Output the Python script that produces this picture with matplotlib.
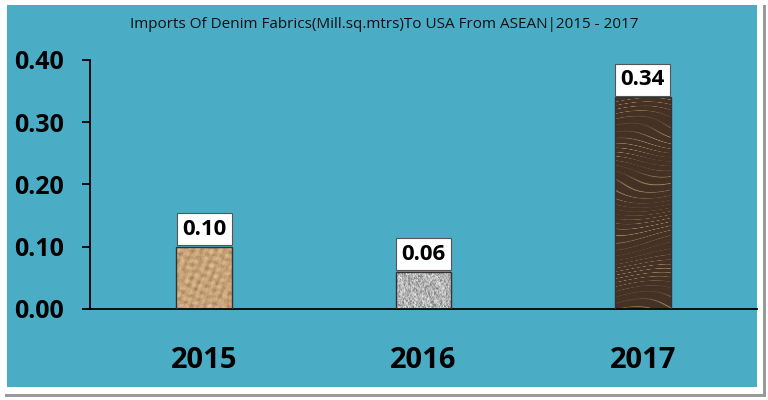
import numpy as np
import matplotlib
matplotlib.use("Agg")
import matplotlib.pyplot as plt
from matplotlib.patches import Rectangle

categories = ["2015", "2016", "2017"]
values = [0.10, 0.06, 0.34]
value_labels = ["0.10", "0.06", "0.34"]
yticks = [0.00, 0.10, 0.20, 0.30, 0.40]
ytick_labels = ["0.00", "0.10", "0.20", "0.30", "0.40"]
title = "Imports Of Denim Fabrics(Mill.sq.mtrs)To USA From ASEAN|2015 - 2017"

plt.rcParams['font.family'] = ['Open Sans', 'DejaVu Sans']

TEAL = "#4BACC6"

fig = plt.figure(figsize=(7.68, 4.0), dpi=100)
fig.patch.set_facecolor("white")
W, H = 768.0, 400.0


def frect(x0, y0, x1, y1, color, z):
    # pixel coords with origin at top-left
    fig.patches.append(Rectangle((x0 / W, 1 - y1 / H), (x1 - x0) / W, (y1 - y0) / H,
                                 transform=fig.transFigure, facecolor=color,
                                 edgecolor="none", zorder=z))


frect(5, 5, 766, 397, "#9a9a9a", -3)
frect(0, 0, 763, 394, "white", -2)
frect(7, 5, 757, 387, TEAL, -1)

ax = fig.add_axes([90 / W, (400 - 309) / H, (757 - 90) / W, (309 - 60) / H])
ax.set_facecolor("none")
ax.set_zorder(1)

x = np.arange(len(categories))
bw = 0.255
bars = ax.bar(x, values, width=bw, color="none", edgecolor="#333333", linewidth=1.0, zorder=3)


def hashn(i, j, s=0.0):
    v = np.sin(i * 12.9898 + j * 78.233 + s) * 43758.5453
    return v - np.floor(v)


def tex_paper(h, w):
    jj, ii = np.meshgrid(np.arange(w), np.arange(h))
    params = [(0.31, 0.17, 0.0), (-0.22, 0.29, 1.3), (0.13, -0.41, 2.1), (0.45, 0.08, 0.7),
              (-0.37, -0.19, 2.9), (0.09, 0.52, 1.9)]
    acc = np.zeros((h, w))
    for fx, fy, ph in params:
        acc += np.abs(np.sin(fx * jj + fy * ii + ph + 0.6 * np.sin(0.11 * ii + 0.07 * jj)))
    acc = (acc - acc.min()) / (acc.max() - acc.min())
    acc = 0.8 * acc + 0.2 * hashn(ii, jj)
    dark = np.array([150, 110, 70]) / 255
    light = np.array([232, 200, 155]) / 255
    return dark + (light - dark) * acc[..., None]


def tex_granite(h, w):
    jj, ii = np.meshgrid(np.arange(w), np.arange(h))
    n = hashn(ii, jj)
    n2 = hashn(ii // 2, jj // 2, 3.0)
    g = 0.45 + 0.5 * (0.6 * n + 0.4 * n2)
    g = np.clip(g, 0, 1)
    return np.stack([g, g, g], axis=-1)


def tex_wood(h, w):
    jj, ii = np.meshgrid(np.arange(w), np.arange(h))
    yy = ii / h
    xx = jj / w
    ph = yy * 40 + 1.2 * np.sin(xx * 2.5 + yy * 7) + 0.6 * np.sin(yy * 23)
    s = np.sin(2 * np.pi * ph)
    streak = np.clip(s, 0, 1) ** 10
    band = 0.5 + 0.5 * np.sin(2 * np.pi * (yy * 5 + 0.3 * xx))
    streak = streak * (0.2 + 0.8 * band)
    base = np.array([72, 52, 38]) / 255
    light = np.array([160, 130, 95]) / 255
    img = base + (light - base) * streak[..., None]
    img = img * (0.92 + 0.08 * hashn(ii, jj)[..., None])
    return img


texs = [tex_paper(62, 56), tex_granite(37, 56), tex_wood(212, 56)]
for b, t in zip(bars, texs):
    x0 = b.get_x()
    im = ax.imshow(t, extent=[x0, x0 + b.get_width(), 0, b.get_height()],
                   aspect="auto", zorder=2, interpolation="bilinear")
    im.set_clip_path(b)

for xi, v, lab in zip(x, values, value_labels):
    ax.annotate(lab, (xi, v), xytext=(0, 5.0), textcoords="offset points",
                ha="center", va="bottom", fontsize=16, fontweight="bold", color="black",
                bbox=dict(boxstyle="square,pad=0.24", facecolor="white", edgecolor="#555555",
                          linewidth=0.8), zorder=4)

ax.set_xlim(-0.52, 2.52)
ax.set_ylim(0, 0.40)
ax.set_yticks(yticks)
ax.set_yticklabels(ytick_labels)
ax.set_xticks(x)
ax.set_xticklabels(categories)
for sp in ["top", "right"]:
    ax.spines[sp].set_visible(False)
ax.spines["left"].set_color("black")
ax.spines["bottom"].set_color("black")
ax.spines["left"].set_linewidth(1.3)
ax.spines["bottom"].set_linewidth(1.3)
ax.tick_params(axis="y", direction="out", length=6, width=1.3, colors="black",
               labelsize=18, pad=13)
for t in ax.get_yticklabels():
    t.set_fontweight("bold")
ax.tick_params(axis="x", length=0, labelsize=21, pad=27, colors="black")
for t in ax.get_xticklabels():
    t.set_fontweight("bold")

fig.text(384 / W, 1 - 24 / H, title, ha="center", va="center", fontsize=11, color="#111111")

fig.savefig("out.png", dpi=100, facecolor=fig.get_facecolor())
